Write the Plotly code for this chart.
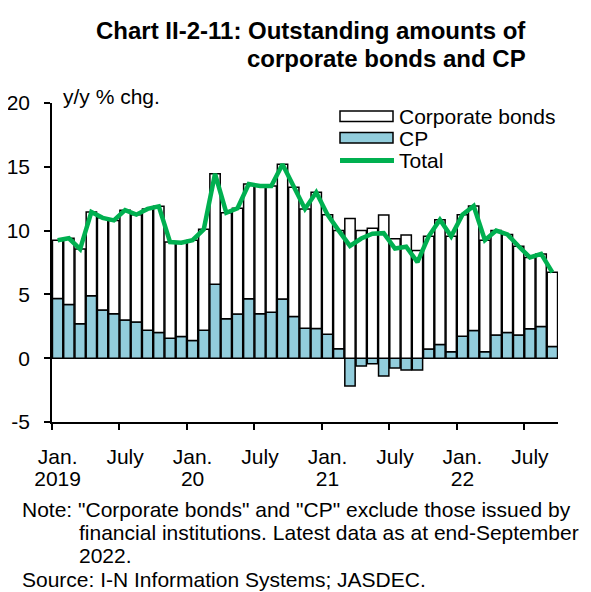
import plotly.graph_objects as go

# ---- data (y/y % chg., monthly Jan 2019 - Sep 2022) ----
months = list(range(45))
cp = [4.68, 4.20, 2.70, 4.90, 3.77, 3.48, 3.00, 2.83, 2.20, 2.02, 1.57, 1.70,
      1.39, 2.20, 5.79, 3.10, 3.46, 4.66, 3.48, 3.60, 4.63, 3.27, 2.34, 2.33,
      1.87, 0.75, -2.17, -0.62, -0.43, -1.40, -0.76, -0.92, -0.92,
      0.72, 1.07, 0.50, 1.72, 2.17, 0.50, 1.81, 2.02, 1.81, 2.30, 2.49, 0.92]
bonds = [4.57, 5.20, 5.85, 6.55, 7.23, 7.32, 8.60, 8.42, 9.50, 9.88, 7.53, 7.35,
         7.86, 7.90, 8.66, 8.30, 8.29, 8.99, 10.02, 9.90, 10.57, 10.13, 9.36, 10.67,
         9.38, 9.25, 10.95, 10.00, 10.18, 11.23, 9.36, 9.66, 8.45,
         8.83, 9.78, 9.05, 9.53, 9.76, 8.75, 8.19, 7.68, 6.96, 5.60, 5.68, 5.81]
total = [9.25, 9.40, 8.55, 11.45, 11.00, 10.80, 11.60, 11.25, 11.70, 11.90, 9.10, 9.05,
         9.25, 10.10, 14.45, 11.40, 11.75, 13.65, 13.50, 13.50, 15.20, 13.40, 11.70, 13.00,
         11.25, 10.00, 8.80, 9.38, 9.75, 9.80, 8.60, 8.74, 7.53,
         9.55, 10.85, 9.55, 11.25, 11.93, 9.25, 10.00, 9.70, 8.77, 7.90, 8.17, 6.73]

month_label_pos = [0, 6, 12, 18, 24, 30, 36, 42]
month_label_text = ["Jan.", "July", "Jan.", "July", "Jan.", "July", "Jan.", "July"]
year_label_pos = [0, 12, 24, 36]
year_label_text = ["2019", "20", "21", "22"]
boundary_ticks = [-0.5, 5.5, 11.5, 17.5, 23.5, 29.5, 35.5, 41.5]
y_ticks = [-5, 0, 5, 10, 15, 20]
y_tick_text = ["-5", "0", "5", "10", "15", "20"]

CP_COLOR = "#92CDDC"
GREEN = "#00B050"
FONT = "Liberation Sans, Arial, sans-serif"
FS = 21

# page body margin offset (screen px -> figure px)
OFF = 8
W, H = 591, 592
# desired plot area in screen pixels
SX0, SX1, SY0, SY1 = 52, 558, 103, 422
L = SX0 - OFF
R = W - (SX1 - OFF)
T = SY0 - OFF
B = H - (SY1 - OFF)
PW, PH = SX1 - SX0, SY1 - SY0


def px(xs):
    return (xs - SX0) / PW


def py(ys):
    return (SY1 - ys) / PH


fig = go.Figure()
fig.add_trace(go.Bar(x=months, y=cp, name="CP",
                     marker=dict(color=CP_COLOR, line=dict(color="black", width=1.5)),
                     showlegend=False))
fig.add_trace(go.Bar(x=months, y=bonds, name="Corporate bonds",
                     marker=dict(color="white", line=dict(color="black", width=1.5)),
                     showlegend=False))
fig.add_trace(go.Scatter(x=months, y=total, name="Total", mode="lines",
                         line=dict(color=GREEN, width=4.5), showlegend=False))
# invisible trace to carry the year axis
fig.add_trace(go.Scatter(x=[months[0], months[-1]], y=[None, None], xaxis="x2", yaxis="y",
                         showlegend=False, hoverinfo="skip"))

fig.update_layout(
    width=W, height=H,
    margin=dict(l=L, r=R, t=T, b=B, autoexpand=False),
    paper_bgcolor="white", plot_bgcolor="white",
    barmode="relative", bargap=0.08,
    font=dict(family=FONT, size=FS, color="black"),
    showlegend=False,
    xaxis=dict(
        range=[-0.5, 44.5], showgrid=False, zeroline=False, automargin=False,
        showline=True, linecolor="black", linewidth=1.5,
        tickmode="array", tickvals=month_label_pos, ticktext=month_label_text, ticks="",
        ticklabelstandoff=15, tickfont=dict(size=FS),
        minor=dict(tickmode="array", tickvals=boundary_ticks, ticks="outside", ticklen=6,
                   tickcolor="black", tickwidth=1.5, showgrid=False),
    ),
    xaxis2=dict(
        overlaying="x", matches="x", anchor="y", side="bottom", automargin=False,
        range=[-0.5, 44.5], showgrid=False, zeroline=False, showline=False,
        tickmode="array", tickvals=year_label_pos, ticktext=year_label_text, ticks="",
        ticklabelstandoff=42, tickfont=dict(size=FS),
    ),
    yaxis=dict(
        range=[-5, 20], showgrid=False, zeroline=False, automargin=False,
        showline=True, linecolor="black", linewidth=1.5,
        tickmode="array", tickvals=y_ticks, ticktext=y_tick_text, ticks="outside", ticklen=6,
        tickcolor="black", tickwidth=1.5, tickfont=dict(size=FS), ticklabelstandoff=10,
    ),
)

ann = []
# title
ann.append(dict(text="<b>Chart II-2-11: Outstanding amounts of</b>", x=px(528), y=py(31), xanchor="right",
                yanchor="middle", font=dict(size=24)))
ann.append(dict(text="<b>corporate bonds and CP</b>", x=px(528), y=py(58), xanchor="right",
                yanchor="middle", font=dict(size=24)))
# unit
ann.append(dict(text="y/y % chg.", x=px(61), y=py(97), xanchor="left", yanchor="middle"))
# legend text
ann.append(dict(text="Corporate bonds", x=px(397), y=py(116), xanchor="left", yanchor="middle"))
ann.append(dict(text="CP", x=px(397), y=py(138), xanchor="left", yanchor="middle"))
ann.append(dict(text="Total", x=px(397), y=py(160), xanchor="left", yanchor="middle"))
# notes
ann.append(dict(text='Note: "Corporate bonds" and "CP" exclude those issued by', x=px(20), y=py(509),
                xanchor="left", yanchor="middle"))
ann.append(dict(text="financial institutions. Latest data as at end-September", x=px(77), y=py(532),
                xanchor="left", yanchor="middle"))
ann.append(dict(text="2022.", x=px(77), y=py(555), xanchor="left", yanchor="middle"))
ann.append(dict(text="Source: I-N Information Systems; JASDEC.", x=px(20), y=py(579),
                xanchor="left", yanchor="middle"))
for a in ann:
    a.update(xref="paper", yref="paper", showarrow=False)
fig.update_layout(annotations=ann)

# legend swatches
shapes = [
    dict(type="rect", x0=px(340), x1=px(393), y0=py(111), y1=py(121.5), fillcolor="white",
         line=dict(color="black", width=1.5)),
    dict(type="rect", x0=px(340), x1=px(393), y0=py(132.5), y1=py(143), fillcolor=CP_COLOR,
         line=dict(color="black", width=1.5)),
    dict(type="line", x0=px(340), x1=px(394), y0=py(160.5), y1=py(160.5),
         line=dict(color=GREEN, width=5)),
]
for s in shapes:
    s.update(xref="paper", yref="paper")
fig.update_layout(shapes=shapes)

fig.write_html("out.html")
